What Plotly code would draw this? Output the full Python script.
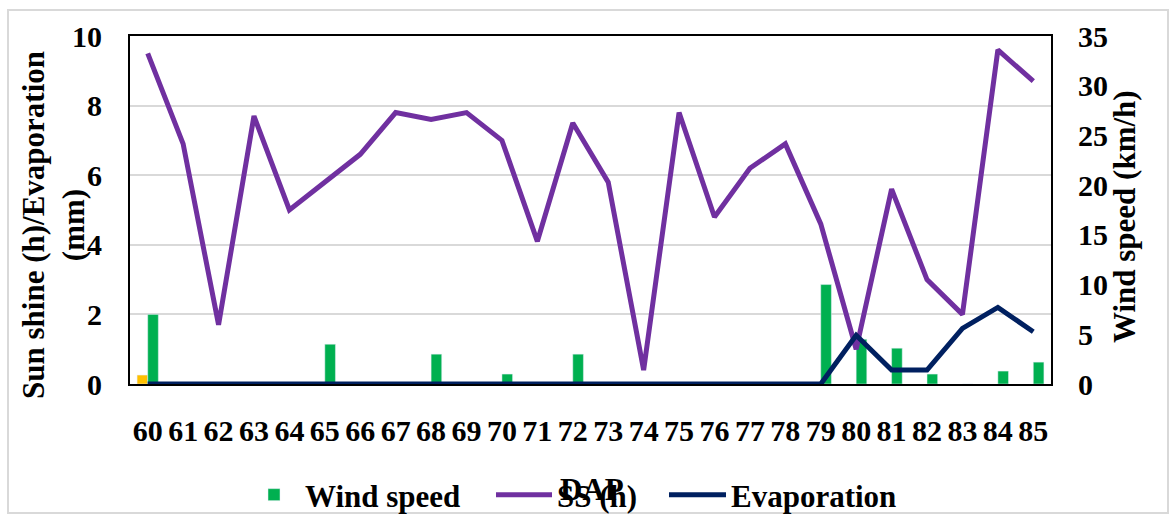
import plotly.graph_objects as go

# Days after planting
dap = [str(d) for d in range(60, 86)]

# Daily weather record
sunshine_h = [9.5, 6.9, 1.7, 7.7, 5.0, 5.8, 6.6, 7.8, 7.6, 7.8, 7.0, 4.1, 7.5,
              5.8, 0.4, 7.8, 4.8, 6.2, 6.9, 4.6, 1.0, 5.6, 3.0, 2.0, 9.6, 8.7]
evaporation_mm = [0, 0, 0, 0, 0, 0, 0, 0, 0, 0, 0, 0, 0,
                  0, 0, 0, 0, 0, 0, 0, 1.4, 0.4, 0.4, 1.6, 2.2, 1.5]
wind_kmh = [7.0, 0, 0, 0, 0, 4.0, 0, 0, 3.0, 0, 1.0, 0, 3.0,
            0, 0, 0, 0, 0, 0, 10.0, 4.5, 3.6, 1.0, 0, 1.3, 2.2]
rain_mm = [0.9] + [None] * 25

FONT = "Liberation Serif"
W, H = 1176, 518
L, R, T, B = 130, 1051, 36, 384          # plot area in pixels
PW, PH = R - L, B - T


def px_x(x):
    return (x - L) / PW


def px_y(y):
    return (B - y) / PH


fig = go.Figure()

fig.add_trace(go.Bar(x=dap, y=rain_mm, marker_color="#FFC000", showlegend=False,
                     yaxis="y", name="Rain"))
fig.add_trace(go.Bar(x=dap, y=wind_kmh, marker_color="#00B050", name="Wind speed",
                     yaxis="y", legend="legend"))
fig.add_trace(go.Scatter(x=dap, y=sunshine_h, mode="lines", name="SS (h)",
                         line=dict(color="#7030A0", width=5), yaxis="y2",
                         legend="legend2"))
fig.add_trace(go.Scatter(x=dap, y=evaporation_mm, mode="lines", name="Evaporation",
                         line=dict(color="#002060", width=5), yaxis="y2",
                         legend="legend3"))

tickfont = dict(family=FONT, size=30, color="black", weight="bold")
legfont = dict(family=FONT, size=31, color="black", weight="bold")


def legend_at(text_left, itemwidth):
    # one legend entry whose label starts at the given pixel column
    return dict(orientation="h", x=px_x(text_left - itemwidth - 10), xanchor="left",
                y=px_y(495), yanchor="middle", font=legfont,
                bgcolor="rgba(0,0,0,0)", itemwidth=itemwidth)


fig.update_layout(
    width=W, height=H,
    margin=dict(l=L, r=W - R, t=T, b=H - B, autoexpand=False),
    paper_bgcolor="white", plot_bgcolor="white",
    barmode="group", bargap=0.4, bargroupgap=0,
    xaxis=dict(type="category", tickmode="array", tickvals=dap, ticktext=dap,
               showline=True, mirror=True, linecolor="black",
               linewidth=2, ticks="", tickfont=tickfont, ticklabelstandoff=19,
               showgrid=False, tickangle=0),
    yaxis=dict(side="right", range=[0, 35], dtick=5, showgrid=False,
               showline=True, linecolor="black", linewidth=2, ticks="",
               tickfont=tickfont, ticklabelstandoff=19, zeroline=False),
    yaxis2=dict(side="left", overlaying="y", range=[0, 10], dtick=2,
                showgrid=True, gridcolor="#D9D9D9", gridwidth=2,
                showline=True, linecolor="black", linewidth=2, ticks="",
                tickfont=tickfont, ticklabelstandoff=20, zeroline=False),
    legend=legend_at(305, 52),
    legend2=legend_at(557, 56),
    legend3=legend_at(731, 57),
    showlegend=True,
)

titlefont = dict(family=FONT, size=31, color="black", weight="bold")
fig.add_annotation(text="Sun shine (h)/Evaporation<br>(mm)", textangle=-90,
                   xref="paper", yref="paper", x=px_x(53), y=px_y(225),
                   showarrow=False, font=titlefont, xanchor="center", yanchor="middle")
fig.add_annotation(text="Wind speed (km/h)", textangle=-90,
                   xref="paper", yref="paper", x=px_x(1124), y=px_y(217),
                   showarrow=False, font=titlefont, xanchor="center", yanchor="middle")
fig.add_annotation(text="DAP", xref="paper", yref="paper", x=px_x(592), y=px_y(489),
                   showarrow=False, font=titlefont, xanchor="center", yanchor="middle")

# chart-area border
fig.add_shape(type="rect", xref="paper", yref="paper",
              x0=px_x(8), x1=px_x(1168), y0=px_y(513), y1=px_y(10),
              line=dict(color="#D9D9D9", width=2), layer="below")

fig.write_html("out.html")
